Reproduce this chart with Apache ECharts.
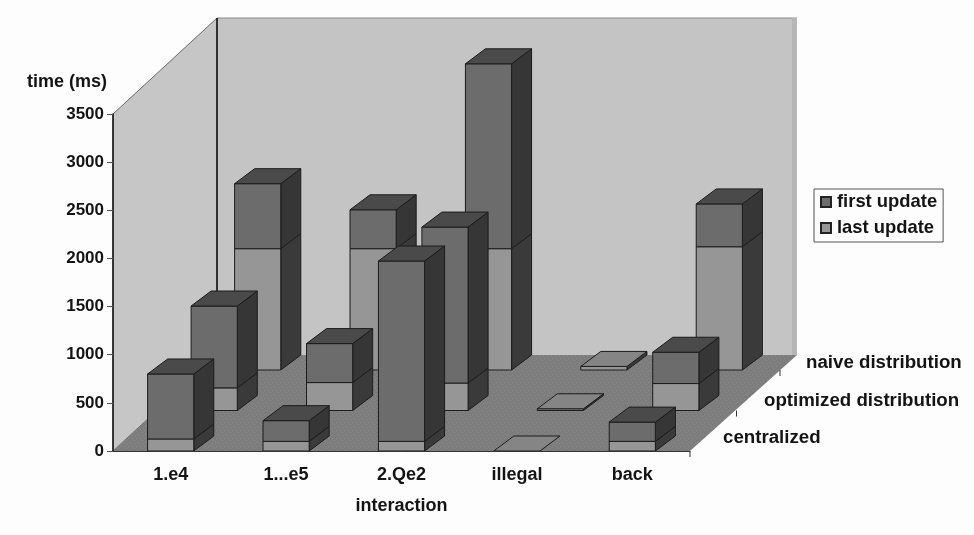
<!DOCTYPE html>
<html>
<head>
<meta charset="utf-8">
<style>
  html, body { margin: 0; padding: 0; background: #fdfdfd; }
  #chart { width: 974px; height: 535px; }
</style>
<script src="https://cdn.jsdelivr.net/npm/echarts@6/dist/echarts.min.js"></script>
</head>
<body>
<div id="chart"></div>
<script>
var categories = ["1.e4", "1...e5", "2.Qe2", "illegal", "back"];
var rowNames = ["centralized", "optimized distribution", "naive distribution"];
var yTicks = [0, 3500, 500];

// values, one list per row
var lastCentralized = [125, 100, 100, 0, 100];
var firstCentralized = [675, 215, 1873, 0, 200];
var lastOptimized = [235, 290, 285, 18, 280];
var firstOptimized = [850, 405, 1620, 0, 325];
var lastNaive = [1260, 1260, 1260, 37, 1280];
var firstNaive = [675, 404, 1920, 0, 445];

var lastRows = [lastCentralized, lastOptimized, lastNaive];
var firstRows = [firstCentralized, firstOptimized, firstNaive];

// oblique projection of the depth axis
var rowStepX = 43.5, rowStepY = 40.5;
var barDepthX = 20, barDepthY = 15;
var floorDepthX = 107, floorDepthY = 96;
var wallDepthX = 104;

var textColor = "#141414";
var fontName = "Liberation Sans";
var lineColor = "#1c1c1c";

function buildData(rows, isFirst) {
  var out = [];
  rows.forEach(function (row, r) {
    row.forEach(function (v, c) {
      var base = isFirst ? lastRows[r][c] : 0;
      out.push([c, r, base, base + v]);
    });
  });
  return out;
}

// grainy fill for the floor
function floorTexture() {
  var cv = document.createElement("canvas");
  cv.width = cv.height = 8;
  var ctx = cv.getContext("2d");
  ctx.fillStyle = "#7e7e7e";
  ctx.fillRect(0, 0, 8, 8);
  ctx.fillStyle = "#777777";
  [[0, 0], [3, 1], [6, 2], [1, 4], [5, 5], [7, 6], [2, 7]].forEach(function (p) {
    ctx.fillRect(p[0], p[1], 1, 1);
  });
  ctx.fillStyle = "#858585";
  [[5, 0], [1, 2], [3, 3], [7, 3], [4, 6], [0, 6]].forEach(function (p) {
    ctx.fillRect(p[0], p[1], 1, 1);
  });
  return cv;
}
var floorFill = { image: floorTexture(), repeat: "repeat" };

function poly(points, fill, z2, stroke) {
  return {
    type: "polygon",
    z2: z2,
    shape: { points: points },
    style: { fill: fill, stroke: stroke || lineColor, lineWidth: 1 },
  };
}

function barRenderer(front, side, top, isFirst) {
  return function (params, api) {
    var c = api.value(0), r = api.value(1), lo = api.value(2), hi = api.value(3);
    var w = api.size([1, 0])[0] * 0.4;
    var pLo = api.coord([c, lo]);
    var pHi = api.coord([c, hi]);
    var x0 = pLo[0] - w / 2 + r * rowStepX;
    var x1 = x0 + w;
    var yLo = pLo[1] - r * rowStepY;
    var yHi = pHi[1] - r * rowStepY;
    var z = (2 - r) * 10 + (isFirst ? 1 : 0);
    var children = [];
    // flat "first" segments leave the cap to the lower segment
    var isCap = isFirst ? hi > lo : lastIsCap(c, r);
    if (hi > lo) {
      children.push(poly([[x1, yLo], [x1 + barDepthX, yLo - barDepthY], [x1 + barDepthX, yHi - barDepthY], [x1, yHi]], side, z));
      children.push(poly([[x0, yLo], [x1, yLo], [x1, yHi], [x0, yHi]], front, z));
    }
    if (isCap) {
      children.push(poly([[x0, yHi], [x1, yHi], [x1 + barDepthX, yHi - barDepthY], [x0 + barDepthX, yHi - barDepthY]], top, z));
    }
    return { type: "group", children: children };
  };
}

function lastIsCap(c, r) {
  return firstRows[r][c] === 0;
}

function renderRoom(params, api) {
  var s = params.coordSys;
  var l = s.x, b = s.y + s.height, t = s.y, rx = s.x + s.width;
  var backB = b - floorDepthY, backT = t - floorDepthY;
  var wallL = l + wallDepthX, wallR = rx + floorDepthX - 5;
  return {
    type: "group",
    children: [
      { type: "polygon", z2: 1, shape: { points: [[wallL, backT], [wallR, backT], [wallR, backB], [wallL, backB]] }, style: { fill: "#c4c4c4", stroke: null } },
      { type: "line", z2: 1, shape: { x1: wallL, y1: backT, x2: wallR + 5, y2: backT }, style: { stroke: "#8a8a8a", lineWidth: 1 } },
      { type: "polygon", z2: 1, shape: { points: [[wallR, backT], [wallR + 5, backT], [wallR + 5, backB], [wallR, backB]] }, style: { fill: "#b6b6b6", stroke: null } },
      { type: "polygon", z2: 2, shape: { points: [[l, t], [wallL, backT], [wallL, backB], [l, b]] }, style: { fill: "#c6c6c6", stroke: "#6a6a6a", lineWidth: 1 } },
      { type: "line", z2: 3, shape: { x1: wallL, y1: backT, x2: wallL, y2: backB }, style: { stroke: "#111", lineWidth: 1.5 } },
      { type: "polygon", z2: 4, shape: { points: [[l, b], [rx, b], [rx + floorDepthX, backB], [wallL, backB]] }, style: { fill: floorFill, stroke: null } },
    ],
  };
}

function renderRowLabel(params, api) {
  var s = params.coordSys;
  var r = api.value(0);
  var rx = s.x + s.width, b = s.y + s.height;
  // label and tick hang off the right edge of the floor
  var labelX = [723, 764, 806][r] - rx;
  var labelY = [13, 50, 88][r];
  var tickX = r * rowStepX + (r ? 3 : 0);
  return {
    type: "group",
    children: [
      { type: "text", x: rx + labelX, y: b - labelY, style: { text: rowNames[r], fill: textColor, font: "bold 18.7px " + fontName, textVerticalAlign: "middle" } },
      { type: "line", shape: { x1: rx + tickX, y1: b - r * rowStepY, x2: rx + tickX, y2: b - r * rowStepY + 6 }, style: { stroke: "#333", lineWidth: 1 } },
    ],
  };
}

var chart = echarts.init(document.getElementById("chart"), null, { renderer: "canvas" });

var nameStyle = { color: textColor, fontFamily: fontName, fontWeight: "bold", fontSize: 18 };

chart.setOption({
  backgroundColor: "#fdfdfd",
  animation: false,
  grid: { left: 113, top: 114, width: 577, height: 337 },
  legend: {
    data: [
      { name: "first update", icon: "rect" },
      { name: "last update", icon: "rect" },
    ],
    orient: "vertical",
    left: 814,
    top: 189,
    padding: [4, 6, 5, 6],
    itemGap: 8,
    itemWidth: 10,
    itemHeight: 10,
    borderColor: "#555",
    borderWidth: 1,
    backgroundColor: "#fdfdfd",
    selectedMode: false,
    textStyle: Object.assign({}, nameStyle, { fontSize: 18.4, padding: [0, 0, 0, 1] }),
  },
  xAxis: {
    type: "category",
    data: categories,
    z: 4,
    name: "interaction",
    nameLocation: "middle",
    nameGap: 46,
    nameTextStyle: nameStyle,
    axisLine: { lineStyle: { color: "#333", width: 1 } },
    axisTick: { length: 6, lineStyle: { color: "#444" } },
    axisLabel: Object.assign({ margin: 15 }, nameStyle),
    splitLine: { show: false },
  },
  yAxis: {
    type: "value",
    min: yTicks[0],
    max: yTicks[1],
    interval: yTicks[2],
    z: 4,
    name: "time (ms)",
    nameLocation: "end",
    nameGap: 23,
    nameTextStyle: Object.assign({ align: "right", padding: [0, 6, 0, 0] }, nameStyle),
    axisLine: { show: true, lineStyle: { color: "#111", width: 1.5 } },
    axisTick: { show: true, length: 6, lineStyle: { color: "#555" } },
    axisLabel: {
      margin: 9,
      color: textColor,
      fontFamily: fontName,
      fontWeight: "bold",
      fontSize: 17,
      padding: [3, 0, 0, 0],
      formatter: function (v) { return String(v); },
    },
    splitLine: { show: false },
  },
  series: [
    { type: "custom", name: "room", silent: true, z: 1, renderItem: renderRoom, data: [[0, 0]], encode: { x: 0, y: 1 } },
    { type: "custom", name: "rows", silent: true, z: 3, renderItem: renderRowLabel, data: [[0, 0], [1, 0], [2, 0]], encode: { x: 1, y: 1 } },
    {
      type: "custom", name: "last update", silent: true, z: 2,
      itemStyle: { color: "#969696", borderColor: "#222", borderWidth: 1 },
      renderItem: barRenderer("#969696", "#3a3a3a", "#858585", false),
      data: buildData(lastRows, false), encode: { x: 0, y: 3 },
    },
    {
      type: "custom", name: "first update", silent: true, z: 2,
      itemStyle: { color: "#6c6c6c", borderColor: "#222", borderWidth: 1 },
      renderItem: barRenderer("#6c6c6c", "#363636", "#4a4a4a", true),
      data: buildData(firstRows, true), encode: { x: 0, y: 3 },
    },
  ],
});
</script>
</body>
</html>
